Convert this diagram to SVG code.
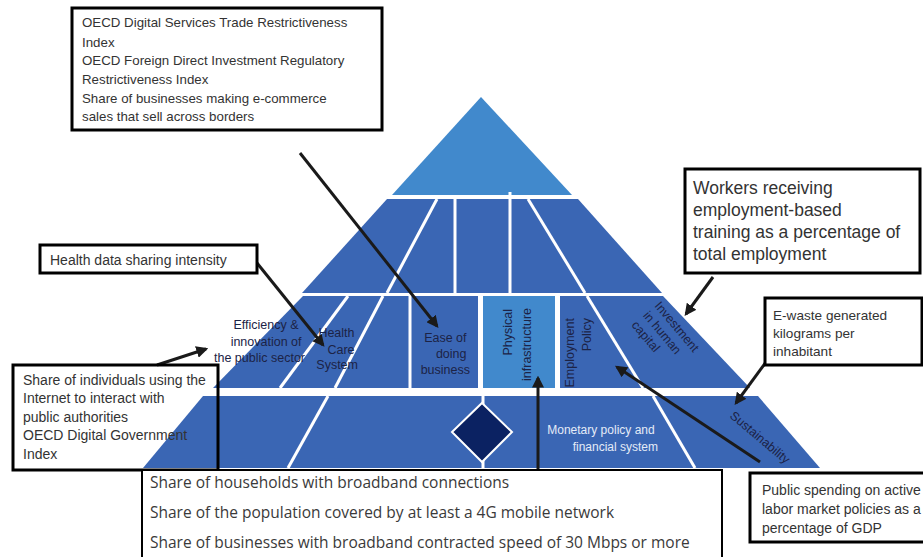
<svg xmlns="http://www.w3.org/2000/svg" width="923" height="557" viewBox="0 0 923 557">
  <style>
    .tier { fill: #3a66b4; }
    .light { fill: #4189cc; }
    .gap { stroke: #ffffff; stroke-width: 3; fill: none; }
    .lbl { font-family: "Liberation Sans", Arial, sans-serif; font-size: 12.5px; fill: #1c2346; }
    .lbl-w { font-family: "Liberation Sans", Arial, sans-serif; font-size: 12px; fill: #e4ebf7; }
    .box { fill: #ffffff; stroke: #000000; stroke-width: 3; }
    .box-open { fill: none; stroke: #000000; stroke-width: 3; }
    .txt { font-family: "Liberation Sans", Arial, sans-serif; fill: #333333; }
    .wide { font-family: "Open Sans", "Liberation Sans", sans-serif; fill: #3a3a3a; }
    .arrow { stroke: #1a1a1a; stroke-width: 3; fill: none; marker-end: url(#head); }
  </style>
  <defs>
    <marker id="head" viewBox="0 0 10 10" refX="8" refY="5" markerWidth="4" markerHeight="4" orient="auto" markerUnits="strokeWidth">
      <path d="M0,0 L10,5 L0,10 z" fill="#1a1a1a"/>
    </marker>
  </defs>

  <rect width="923" height="557" fill="#ffffff"/>

  <!-- Pyramid tiers -->
  <g id="tier-top">
    <polygon class="light" points="481,97 572,195 392,195"/>
  </g>

  <g id="tier-2">
    <polygon class="tier" points="387,199 578,199 662,293 302,293"/>
    <line class="gap" x1="437" y1="199" x2="387" y2="293"/>
    <line class="gap" x1="455" y1="199" x2="455" y2="293"/>
    <line class="gap" x1="510" y1="192" x2="510" y2="293"/>
    <line class="gap" x1="528" y1="199" x2="585" y2="293"/>
  </g>

  <g id="tier-3">
    <polygon class="tier" points="303,296 663,296 750,388 213,388"/>
    <line class="gap" x1="348" y1="296" x2="280" y2="388"/>
    <line class="gap" x1="383" y1="296" x2="335" y2="388"/>
    <line class="gap" x1="410" y1="296" x2="410" y2="388"/>
    <rect x="478" y="296" width="82" height="92" fill="#ffffff"/>
    <rect class="light" x="483" y="296" width="72" height="92"/>
    <line class="gap" x1="587" y1="296" x2="643" y2="388"/>
  </g>

  <g id="tier-4">
    <polygon class="tier" points="203,396 758,396 820,468 143,468"/>
    <line class="gap" x1="328" y1="396" x2="288" y2="468"/>
    <line class="gap" x1="483" y1="396" x2="483" y2="468"/>
    <line class="gap" x1="653" y1="396" x2="695" y2="468"/>
    <polygon points="482,403 512,432 482,462 452,432" fill="#0b2262" stroke="#ffffff" stroke-width="2"/>
  </g>

  <!-- Pillar labels -->
  <g id="label-efficiency">
    <text class="lbl" text-anchor="end">
      <tspan x="302" y="329">Efficiency &amp;</tspan>
      <tspan x="305" y="346">innovation of</tspan>
      <tspan x="305" y="362">the public sector</tspan>
    </text>
  </g>
  <g id="label-health">
    <text class="lbl" text-anchor="end">
      <tspan x="358" y="337">Health</tspan>
      <tspan x="358" y="354">Care</tspan>
      <tspan x="358" y="369">System</tspan>
    </text>
  </g>
  <g id="label-ease">
    <text class="lbl" text-anchor="end">
      <tspan x="470" y="342">Ease of</tspan>
      <tspan x="470" y="358">doing</tspan>
      <tspan x="470" y="374">business</tspan>
    </text>
  </g>
  <g id="label-physical">
    <text class="lbl" text-anchor="end" transform="translate(512,309) rotate(-90)">Physical</text>
    <text class="lbl" text-anchor="end" transform="translate(531,308) rotate(-90)">infrastructure</text>
  </g>
  <g id="label-employment">
    <text class="lbl" text-anchor="end" transform="translate(574,318) rotate(-90)">Employment</text>
    <text class="lbl" text-anchor="end" transform="translate(591,318) rotate(-90)">Policy</text>
  </g>
  <g id="label-human-capital">
    <text class="lbl" transform="translate(654,306) rotate(50)">
      <tspan x="0" y="0">Investment</tspan>
      <tspan x="0" y="15">in human</tspan>
      <tspan x="0" y="30">capital</tspan>
    </text>
  </g>
  <g id="label-monetary">
    <text class="lbl-w" text-anchor="end">
      <tspan x="658" y="434">Monetary policy and</tspan>
      <tspan x="658" y="451">financial system</tspan>
    </text>
  </g>
  <g id="label-sustainability">
    <text class="lbl" transform="translate(729,417) rotate(40)">Sustainability</text>
  </g>

  <!-- Connectors -->
  <g id="connectors">
    <line class="arrow" x1="300" y1="153" x2="437" y2="326"/>
    <line class="arrow" x1="257" y1="263" x2="323" y2="345"/>
    <line class="arrow" x1="157" y1="365" x2="206" y2="349"/>
    <line class="arrow" x1="713" y1="277" x2="686" y2="314"/>
    <line class="arrow" x1="766" y1="362" x2="736" y2="403"/>
    <line class="arrow" x1="760" y1="462" x2="617" y2="367"/>
    <line class="arrow" x1="538" y1="470" x2="538" y2="378"/>
  </g>

  <!-- Indicator boxes -->
  <g id="box-trade">
    <rect class="box" x="72" y="8" width="310" height="122"/>
    <text class="txt" font-size="13.3">
      <tspan x="82" y="27">OECD Digital Services Trade Restrictiveness</tspan>
      <tspan x="82" y="47">Index</tspan>
      <tspan x="82" y="65">OECD Foreign Direct Investment Regulatory</tspan>
      <tspan x="82" y="84">Restrictiveness Index</tspan>
      <tspan x="82" y="103">Share of businesses making e-commerce</tspan>
      <tspan x="82" y="121">sales that sell across borders</tspan>
    </text>
  </g>

  <g id="box-training">
    <rect class="box" x="685" y="169" width="235" height="104"/>
    <text class="txt" font-size="17.5">
      <tspan x="693" y="194">Workers receiving</tspan>
      <tspan x="693" y="216">employment-based</tspan>
      <tspan x="693" y="238">training as a percentage of</tspan>
      <tspan x="693" y="260">total employment</tspan>
    </text>
  </g>

  <g id="box-health">
    <rect class="box" x="40" y="245" width="217" height="28"/>
    <text class="txt" font-size="14" x="50" y="265">Health data sharing intensity</text>
  </g>

  <g id="box-government">
    <rect class="box-open" x="13" y="365" width="205" height="105"/>
    <text class="txt" font-size="14">
      <tspan x="23" y="385">Share of individuals using the</tspan>
      <tspan x="23" y="403">Internet to interact with</tspan>
      <tspan x="23" y="422">public authorities</tspan>
      <tspan x="23" y="440">OECD Digital Government</tspan>
      <tspan x="23" y="459">Index</tspan>
    </text>
  </g>

  <g id="box-ewaste">
    <rect class="box" x="765" y="298" width="157" height="67"/>
    <text class="txt" font-size="13.6">
      <tspan x="773" y="320">E-waste generated</tspan>
      <tspan x="773" y="338">kilograms per</tspan>
      <tspan x="773" y="356">inhabitant</tspan>
    </text>
  </g>

  <g id="box-labour">
    <rect class="box" x="750" y="473" width="180" height="69"/>
    <text class="txt" font-size="14">
      <tspan x="762" y="495">Public spending on active</tspan>
      <tspan x="762" y="514">labor market policies as a</tspan>
      <tspan x="762" y="533">percentage of GDP</tspan>
    </text>
  </g>

  <g id="box-broadband">
    <rect x="142" y="470" width="580" height="95" fill="#ffffff" stroke="#000000" stroke-width="2"/>
    <text class="wide" font-size="15.5">
      <tspan x="150" y="488">Share of households with broadband connections</tspan>
      <tspan x="150" y="518">Share of the population covered by at least a 4G mobile network</tspan>
      <tspan x="150" y="548">Share of businesses with broadband contracted speed of 30 Mbps or more</tspan>
    </text>
  </g>
</svg>
